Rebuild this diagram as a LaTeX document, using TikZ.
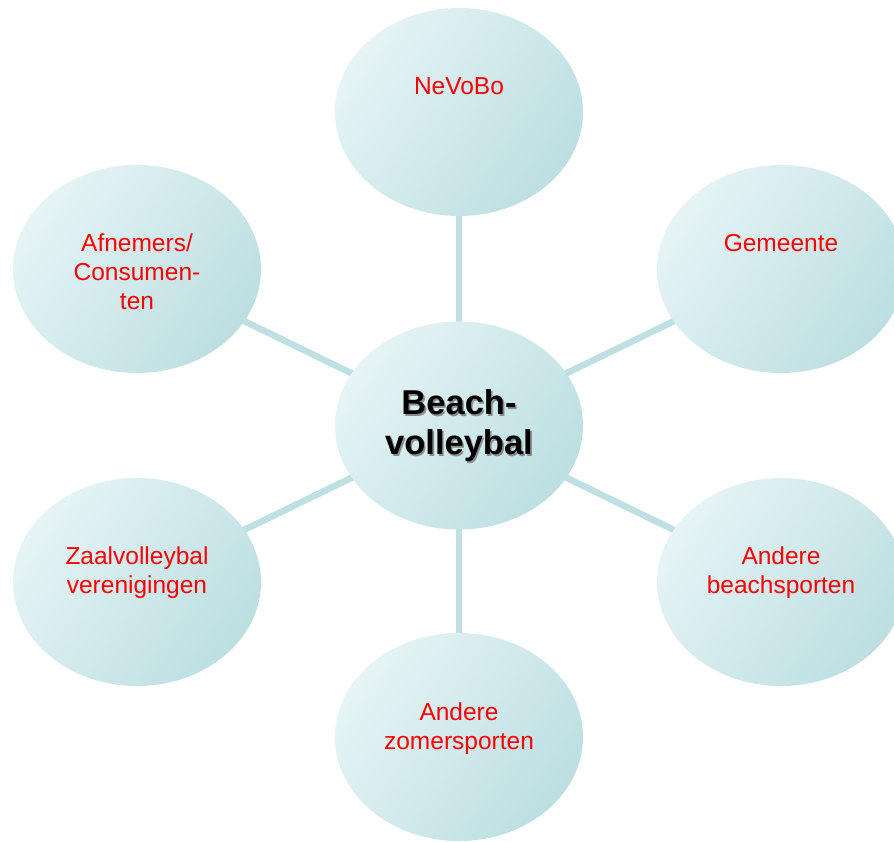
\documentclass[tikz,border=0pt]{standalone}
\usepackage{fontspec}
\setmainfont{Liberation Sans}
\usetikzlibrary{shapes.geometric}
\definecolor{balllight}{RGB}{230,244,245}
\definecolor{balldark}{RGB}{188,223,226}
\definecolor{linkcol}{RGB}{190,224,227}
\definecolor{labred}{RGB}{255,0,0}
\tikzset{
  ball/.style={ellipse, minimum width=248pt, minimum height=208pt, inner sep=0pt,
    bottom color=balldark, middle color=balllight!72!balldark, top color=balllight, shading angle=55},
  link/.style={draw=linkcol, line width=6.5pt},
  lab/.style={anchor=north, inner sep=0pt, align=center, text=labred,
    font=\fontsize{24.5}{29}\selectfont},
  hub/.style={inner sep=0pt, align=center, font=\bfseries\fontsize{34.5}{40}\selectfont}
}
\begin{document}
\begin{tikzpicture}[x=1pt,y=1pt]
\useasboundingbox (0,0) rectangle (894,-841);
\clip (0,0) rectangle (894,-841);
\fill[white] (0,0) rectangle (894,-841);
% centres
\coordinate (pc) at (459,-425.5);
\coordinate (pt) at (459,-112);
\coordinate (pb) at (459,-737);
\coordinate (plu) at (137,-269);
\coordinate (pru) at (781,-269);
\coordinate (pll) at (137,-582);
\coordinate (prl) at (781,-582);
% connectors (behind)
\draw[link] (pc) -- (pt);
\draw[link] (pc) -- (pb);
\draw[link] (pc) -- (plu);
\draw[link] (pc) -- (pru);
\draw[link] (pc) -- (pll);
\draw[link] (pc) -- (prl);
% balls
\node[ball] (c) at (pc) {};
\node[ball] (t) at (pt) {};
\node[ball] (b) at (pb) {};
\node[ball] (lu) at (plu) {};
\node[ball] (ru) at (pru) {};
\node[ball] (ll) at (pll) {};
\node[ball] (rl) at (prl) {};
% labels
\node[lab] (tl) at ([yshift=35pt]t.center) {NeVoBo};
\node[lab] (rul) at ([yshift=35pt]ru.center) {Gemeente};
\node[lab] (lul) at ([yshift=35pt]lu.center) {Afnemers/\\Consumen-\\ten};
\node[lab] (lll) at ([yshift=35pt]ll.center) {Zaalvolleybal\\verenigingen};
\node[lab] (rll) at ([yshift=35pt]rl.center) {Andere\\beachsporten};
\node[lab] (bl) at ([yshift=34pt]b.center) {Andere\\zomersporten};
% centre text with shadow
\node[hub, text=black!45] (cs) at ([xshift=1.6pt,yshift=-1.6pt]c.center) {Beach-\\volleybal};
\node[hub, text=black] (ct) at (c.center) {Beach-\\volleybal};
\end{tikzpicture}
\end{document}
